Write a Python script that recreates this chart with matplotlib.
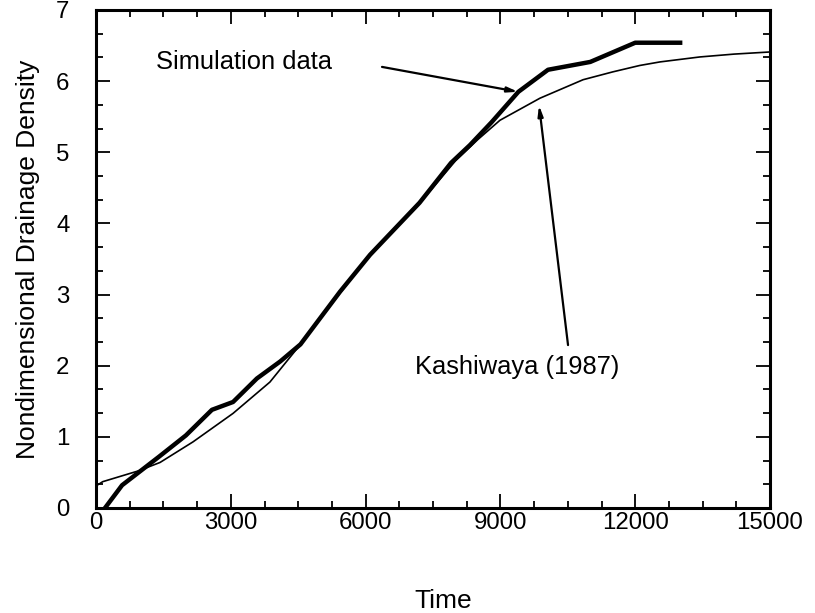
import numpy as np
import matplotlib.pyplot as plt
from matplotlib.ticker import MultipleLocator

plt.rcParams['font.family'] = ['Liberation Sans', 'DejaVu Sans']

# simulation data (thick line)
sim_time = [200, 580, 1400, 2000, 2580, 3050, 3580, 4100, 4550, 5430, 6100,
            7200, 7900, 8320, 8800, 9400, 10060, 11000, 12000, 13000]
sim_density = [0.0, 0.32, 0.72, 1.02, 1.38, 1.49, 1.82, 2.06, 2.30, 3.04, 3.56,
               4.29, 4.85, 5.10, 5.42, 5.85, 6.16, 6.27, 6.54, 6.54]

# Kashiwaya (1987) curve (thin line)
kas_time = [0, 150, 935, 1425, 2160, 3050, 3870, 4550, 5430, 6100, 7200, 8000,
            8500, 8990, 9880, 10840, 11500, 12100, 12550, 13440, 14200, 15000]
kas_density = [0.31, 0.37, 0.52, 0.64, 0.93, 1.33, 1.77, 2.30, 3.02, 3.56, 4.28,
               4.88, 5.18, 5.45, 5.76, 6.02, 6.13, 6.22, 6.27, 6.34, 6.38, 6.41]

fig = plt.figure(figsize=(8.15, 6.13), dpi=100)
ax = fig.add_axes([0.1178, 0.1713, 0.827, 0.8124])

ax.plot(sim_time, sim_density, color='black', lw=3.2, solid_joinstyle='round')
ax.plot(kas_time, kas_density, color='black', lw=1.2)

ax.set_xlim(0, 15000)
ax.set_ylim(0, 7)
ax.xaxis.set_major_locator(MultipleLocator(3000))
ax.xaxis.set_minor_locator(MultipleLocator(750))
ax.yaxis.set_major_locator(MultipleLocator(1))
ax.yaxis.set_minor_locator(MultipleLocator(1 / 3))

ax.tick_params(which='both', direction='in', top=True, right=True,
               width=1.3, labelsize=17.3)
ax.tick_params(which='major', length=10)
ax.tick_params(which='minor', length=5)
ax.tick_params(axis='x', pad=3)
ax.tick_params(axis='y', pad=19)
for sp in ax.spines.values():
    sp.set_linewidth(2.2)

ax.set_xlabel('Time', fontsize=19)
ax.xaxis.set_label_coords(0.515, -0.162)
ax.set_ylabel('Nondimensional Drainage Density', fontsize=19, labelpad=12)

arrow = dict(arrowstyle='-|>,head_length=0.6,head_width=0.15', color='black',
             lw=1.6, shrinkA=0, shrinkB=0)
ax.text(3294, 6.27, 'Simulation data', fontsize=18.4, ha='center', va='center')
ax.annotate('', xy=(9392, 5.85), xytext=(6365, 6.20), arrowprops=arrow)
ax.text(9370, 1.98, 'Kashiwaya (1987)', fontsize=18.4, ha='center', va='center')
ax.annotate('', xy=(9860, 5.66), xytext=(10505, 2.29), arrowprops=arrow)

fig.savefig('out.png', dpi=100)
